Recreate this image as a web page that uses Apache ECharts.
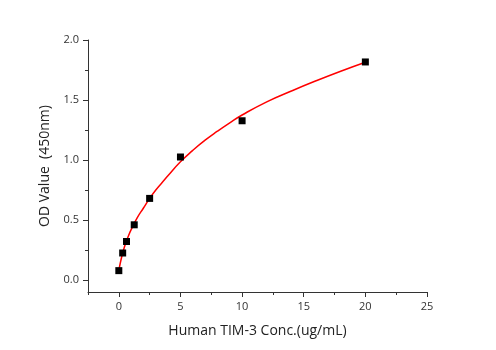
<!DOCTYPE html>
<html>
<head>
<meta charset="utf-8">
<script src="https://cdn.jsdelivr.net/npm/echarts@6/dist/echarts.min.js"></script>
<style>
  html, body { margin: 0; padding: 0; background: #fff; }
  #chart { width: 496px; height: 350px; }
</style>
</head>
<body>
<div id="chart"></div>
<script>
// measured standards
var concX = [0, 0.3125, 0.625, 1.25, 2.5, 5, 10, 20];
var odY = [0.078, 0.225, 0.321, 0.46, 0.68, 1.025, 1.327, 1.817];

// fitted curve
var fitX = [0, 0.25, 0.5, 0.75, 1, 1.5, 2, 2.5, 3, 3.5, 4, 5, 6, 7, 8, 9, 10, 12, 14, 16, 18, 20];
var fitY = [0.08, 0.2, 0.29, 0.36, 0.42, 0.52, 0.6, 0.68, 0.75, 0.81, 0.87, 0.985, 1.08, 1.165, 1.24, 1.31, 1.375, 1.485, 1.575, 1.66, 1.74, 1.815];

// ticks
var xTicks = [0, 5, 10, 15, 20, 25];
var xMinor = [-2.5, 2.5, 7.5, 12.5, 17.5, 22.5];
var yTicks = [0, 0.5, 1.0, 1.5, 2.0];
var yMinor = [0.25, 0.75, 1.25, 1.75];

var FONT = "'Open Sans', 'Liberation Sans', sans-serif";

var myChart = echarts.init(document.getElementById('chart'));

function mainAxis(ticks, extra) {
    return Object.assign({
        type: 'value',
        axisLine: { onZero: false, lineStyle: { color: '#333', width: 1 } },
        axisTick: { inside: false, length: 5, customValues: ticks, lineStyle: { color: '#333' } },
        splitLine: { show: false },
        axisLabel: { color: '#333', fontSize: 11, fontFamily: FONT, margin: 9, customValues: ticks },
        nameLocation: 'middle',
        nameTextStyle: { color: '#222', fontSize: 14, fontFamily: FONT }
    }, extra);
}

function minorAxis(ticks, extra) {
    return Object.assign({
        type: 'value',
        axisLine: { show: false, onZero: false },
        axisTick: { inside: false, length: 3, customValues: ticks, lineStyle: { color: '#333' } },
        axisLabel: { show: false },
        splitLine: { show: false }
    }, extra);
}

var option = {
    backgroundColor: '#fff',
    animation: false,
    grid: { left: 88, right: 69, top: 40, bottom: 58 },
    xAxis: [
        mainAxis(xTicks, { min: -2.5, max: 25, name: 'Human TIM-3 Conc.(ug/mL)', nameGap: 32 }),
        minorAxis(xMinor, { min: -2.5, max: 25, position: 'bottom' })
    ],
    yAxis: [
        mainAxis(yTicks, { min: -0.1, max: 2.0, name: 'OD Value  (450nm)', nameGap: 36 }),
        minorAxis(yMinor, { min: -0.1, max: 2.0, position: 'left' })
    ],
    series: [{
        type: 'line',
        data: fitX.map((x, i) => [x, fitY[i]]),
        smooth: true,
        symbol: 'none',
        lineStyle: { color: '#ff0000', width: 1.5 },
        z: 2
    }, {
        type: 'scatter',
        data: concX.map((x, i) => [x, odY[i]]),
        symbol: 'rect',
        symbolSize: 7,
        itemStyle: { color: '#000', opacity: 1 },
        z: 3
    }]
};
option.yAxis[0].axisLabel.formatter = v => v.toFixed(1);
myChart.setOption(option);
</script>
</body>
</html>
